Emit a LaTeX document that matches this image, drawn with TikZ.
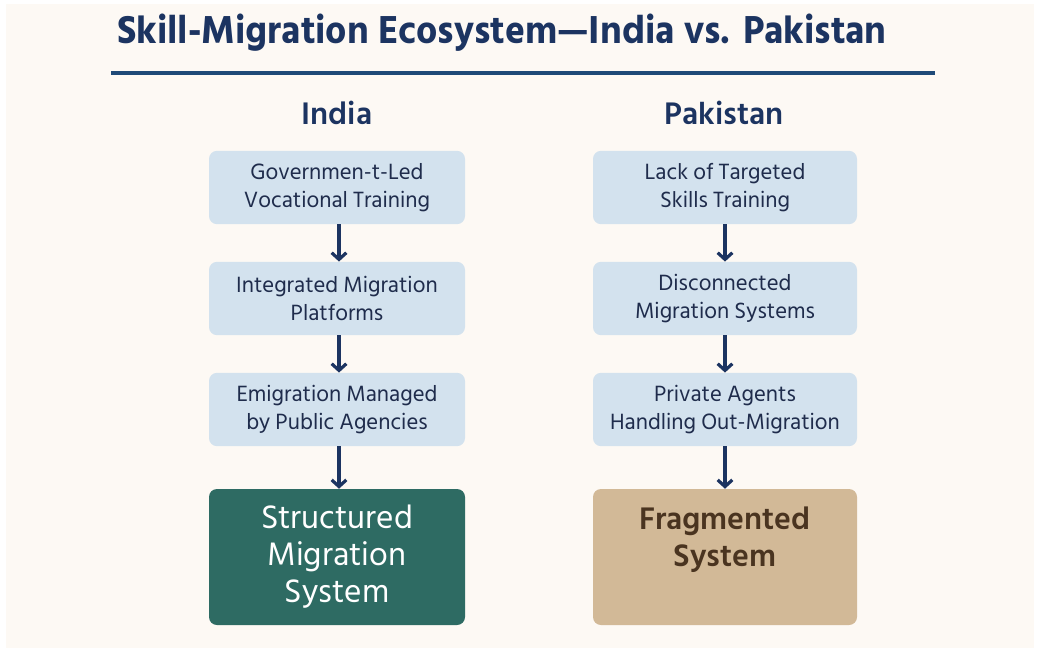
\documentclass[tikz,border=0pt]{standalone}
\usepackage{fontspec}
\setmainfont{Hind Siliguri}[BoldFont=* SemiBold]
\newfontfamily\titlefont{Hind Siliguri}[UprightFont=* Bold]
\usetikzlibrary{arrows.meta}
\definecolor{paper}{HTML}{FDF9F4}
\definecolor{navy}{HTML}{1C3461}
\definecolor{rulecol}{HTML}{1F4A78}
\definecolor{stepfill}{HTML}{D3E2EE}
\definecolor{steptext}{HTML}{1F2C4C}
\definecolor{tealbox}{HTML}{2E6B63}
\definecolor{tanbox}{HTML}{D2B997}
\definecolor{browntext}{HTML}{4A3420}
\begin{document}
\begin{tikzpicture}[x=0.75pt,y=-0.75pt,
  stepbox/.style={fill=stepfill, rounded corners=6pt, text=steptext,
    minimum width=192pt, minimum height=55pt, align=center, inner sep=0pt,
    font=\fontsize{17pt}{21pt}\selectfont},
  resultbox/.style={rounded corners=6pt, minimum height=102pt, align=center, inner sep=0pt},
  header/.style={text=navy, font=\fontsize{24pt}{28pt}\selectfont\bfseries},
  flow/.style={draw=navy, line width=2.4pt, -{Straight Barb[length=5pt,width=11pt]}}]
% page and paper
\useasboundingbox (0,0) rectangle (1038,656);
\fill[white] (0,0) rectangle (1038,656);
\fill[paper] (6,4) rectangle (1034,648);
% title and rule
\node[text=navy, font=\titlefont\fontsize{30pt}{34pt}\selectfont, inner sep=0pt] (title) at (502,33)
  {\scalebox{0.94}[1]{Skill-Migration Ecosystem—India vs. Pakistan}};
\draw[rulecol, line width=3pt] (111,73) -- (935,73);
% column headers
\node[header] (hIndia) at (337,113) {India};
\node[header] (hPak) at (724,113) {Pakistan};
% India column
\node[stepbox] (i1) at (337,187.5) {Governmen-t-Led\\Vocational Training};
\node[stepbox] (i2) at (337,298.5) {Integrated Migration\\Platforms};
\node[stepbox] (i3) at (337,409.5) {Emigration Managed\\by Public Agencies};
\node[resultbox, fill=tealbox, text=white, minimum width=192pt,
  font=\fontsize{25pt}{27.75pt}\selectfont] (i4) at (337,557) {Structured\\Migration\\System};
% Pakistan column
\node[stepbox, minimum width=198pt] (p1) at (725,187.5) {Lack of Targeted\\Skills Training};
\node[stepbox, minimum width=198pt] (p2) at (725,298.5) {Disconnected\\Migration Systems};
\node[stepbox, minimum width=198pt] (p3) at (725,409.5) {Private Agents\\Handling Out-Migration};
\node[resultbox, fill=tanbox, text=browntext, minimum width=198pt,
  font=\fontsize{24pt}{27.75pt}\selectfont\bfseries] (p4) at (725,557)
  {Fragmented\\System\\[-6pt]\strut};
% connectors
\draw[flow] ([xshift=1.5pt]i1.south) -- ([xshift=1.5pt]i2.north);
\draw[flow] ([xshift=1.5pt]i2.south) -- ([xshift=1.5pt]i3.north);
\draw[flow] ([xshift=1.5pt]i3.south) -- ([xshift=1.5pt]i4.north);
\draw[flow] (p1.south) -- (p2.north);
\draw[flow] (p2.south) -- (p3.north);
\draw[flow] (p3.south) -- (p4.north);
\end{tikzpicture}
\end{document}
